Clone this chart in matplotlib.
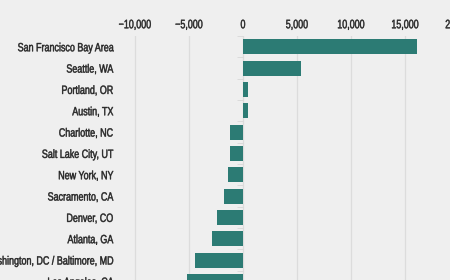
import matplotlib
matplotlib.use('Agg')

import matplotlib.pyplot as plt
from matplotlib import patheffects
from matplotlib.transforms import Affine2D
from matplotlib.ticker import FuncFormatter, MultipleLocator

# metro areas, net migration
metros = ['San Francisco Bay Area', 'Seattle, WA', 'Portland, OR', 'Austin, TX',
          'Charlotte, NC', 'Salt Lake City, UT', 'New York, NY', 'Sacramento, CA',
          'Denver, CO', 'Atlanta, GA', 'Washington, DC / Baltimore, MD',
          'Los Angeles, CA']
net_flow = [16100, 5400, 420, 420, -1250, -1250, -1380, -1750, -2380,
            -2850, -4450, -5200]
x_ticks = [-10000, -5000, 0, 5000, 10000, 15000, 20000]


class Squeeze(patheffects.AbstractPathEffect):
    # draw text horizontally condensed (the original uses a condensed face)
    def __init__(self, sx, align, stroke=0.35):
        super().__init__()
        self.sx = sx
        self.align = align
        self.stroke = stroke

    def draw_path(self, renderer, gc, tpath, affine, rgbFace=None):
        ext = tpath.get_extents()
        if self.align == 'right':
            shift = (1 - self.sx) * ext.x1
        else:
            shift = (1 - self.sx) * (ext.x0 + ext.x1) / 2.0
        t = Affine2D().scale(self.sx, 1).translate(shift, 0) + affine
        gc0 = renderer.new_gc()
        gc0.copy_properties(gc)
        gc0.set_linewidth(self.stroke)
        gc0.set_foreground(rgbFace)
        renderer.draw_path(gc0, tpath, t, rgbFace)
        gc0.restore()


plt.rcParams['font.family'] = ['Liberation Sans', 'DejaVu Sans']

bg = '#efefef'
txt = '#262626'
fig = plt.figure(figsize=(4.5, 2.8), dpi=100, facecolor=bg)
ax = fig.add_axes([0.264, -0.043, 0.78, 0.914], facecolor=bg)

ypos = list(range(len(metros)))
ax.barh(ypos, net_flow, height=0.7, color='#2c7b74', zorder=3)

ax.set_xlim(-11500, 21000)
ax.set_ylim(len(metros) - 0.5, -0.5)
ax.set_xticks(x_ticks)
ax.xaxis.set_major_formatter(FuncFormatter(
    lambda v, p: ('{:,.0f}'.format(v)).replace('-', '\u2212')))
ax.xaxis.tick_top()
ax.grid(axis='x', color='#dcdcdc', linewidth=0.9, zorder=0)

# little tick marks at zero between rows
ax.spines['right'].set_position(('data', 0))
ax.yaxis.set_minor_locator(MultipleLocator(1, offset=0.5))

ax.set_yticks(ypos)
ax.set_yticklabels(metros)
ax.tick_params(axis='x', length=0, pad=3.5, labelsize=8.8, colors=txt)
ax.tick_params(axis='y', which='major', length=0, pad=4.2, labelsize=8.6,
               colors=txt)
ax.tick_params(axis='y', which='minor', left=False, right=True,
               direction='in', length=4, color='#d8d8d8')

for s in ['top', 'bottom', 'left', 'right']:
    ax.spines[s].set_visible(False)

for lab in ax.get_yticklabels():
    lab.set_path_effects([Squeeze(0.75, 'right')])
for lab in ax.get_xticklabels():
    lab.set_path_effects([Squeeze(0.73, 'center')])

fig.savefig('out.png', dpi=100, facecolor=bg)
